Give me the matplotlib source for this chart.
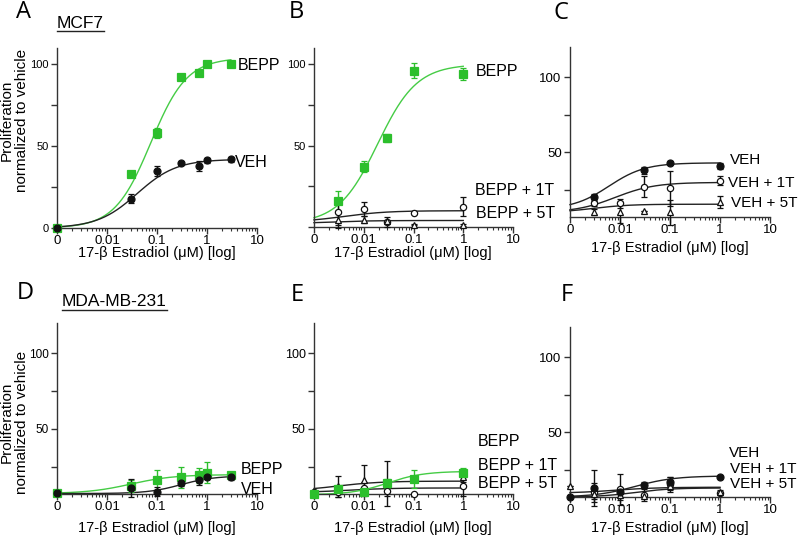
import numpy as np
import matplotlib
matplotlib.use("Agg")
import matplotlib.pyplot as plt
from matplotlib.lines import Line2D
from matplotlib.ticker import FixedLocator, LogLocator, NullFormatter, FixedFormatter

plt.rcParams['font.family'] = ['Liberation Sans', 'DejaVu Sans']

# ---------------- data ----------------
ZERO = 0.001  # position used for concentration "0" on the log axis
x_ticks = [0.001, 0.01, 0.1, 1, 10]
x_ticklabels = ["0", "0.01", "0.1", "1", "10"]

# Panel A (MCF7)
A_x = [0, 0.03, 0.1, 0.3, 0.7, 1, 3]
A_bepp = [0, 33, 58, 92.5, 94.5, 100, 100]
A_bepp_err = [0, 1.5, 3, 1.5, 1.5, 1.5, 1.5]
A_veh = [0, 18, 35, 39.5, 38, 41.5, 42]
A_veh_err = [0, 3, 3, 1, 3, 1.5, 1.5]
A_bepp_fit = [0, 104, 0.075, 1.2]      # bottom, top, EC50, hill
A_veh_fit = [0, 42, 0.04, 1.1]

# Panel B
B_x = [0.003, 0.01, 0.03, 0.1, 1]
B_bepp = [16, 37, 54.5, 96, 94]
B_bepp_err = [6, 3.5, 2.5, 4.5, 3.5]
B_1t = [9.5, 11, 3, 8.5, 12.5]
B_1t_err = [8, 4.5, 3, 0.5, 6]
B_5t = [4.5, 4.5, 3.5, 1.5, 1.2]
B_5t_err = [5, 2, 1, 0.5, 0.5]
B_bepp_fit = [2, 100, 0.019, 1.1]
B_1t_fit = [3, 10, 0.004, 1.0]
B_5t_fit = [2, 4, 0.002, 1.0]

# Panel C
C_x_veh = [0.003, 0.03, 0.1, 1]
C_veh = [20, 38, 43, 41]
C_veh_err = [2.5, 2.5, 1, 2]
C_x = [0.003, 0.01, 0.03, 0.1, 1]
C_1t = [16, 16, 27, 26, 31]
C_1t_err = [2, 3, 7, 11.5, 3]
C_5t = [10.5, 10, 11, 10, 17]
C_5t_err = [2, 7, 0, 8, 4]
C_veh_fit = [12, 43, 0.006, 1.2]
C_1t_fit = [10, 30, 0.008, 1.1]
C_5t_fit = [10, 15.5, 0.003, 1.2]

# Panel D (MDA-MB-231)
D_x = [0, 0.03, 0.1, 0.3, 0.7, 1, 3]
D_bepp = [7.5, 12.5, 16, 18, 19.5, 21, 19.5]
D_bepp_err = [0, 4, 7, 7, 5, 7, 1]
D_veh = [7.5, 11, 8.5, 14, 16, 18.5, 18]
D_veh_err = [0, 6, 3, 1.5, 3, 1.5, 1.5]
D_bepp_fit = [7.3, 19.8, 0.03, 1.0]
D_veh_fit = [7.3, 19, 0.3, 1.3]

# Panel E
E_x = [0, 0.003, 0.01, 0.03, 0.1, 1]
E_bepp = [7, 10, 8.5, 14, 17, 21]
E_bepp_err = [0, 3, 2, 3, 6, 3]
E_1t = [8.5, 8, 11, 9, 7, 12]
E_1t_err = [0, 3, 4, 3, 0, 6]
E_x_5t = [0, 0.003, 0.01, 0.03, 1]
E_5t = [7.5, 12, 16, 14, 18]
E_5t_err = [0, 7, 10, 15, 3]
E_bepp_fit = [6.5, 22, 0.03, 1.2]
E_1t_fit = [8, 11, 0.005, 1.0]
E_5t_fit = [9, 15.5, 0.003, 1.0]

# Panel F
F_x = [0, 0.003, 0.01, 0.03, 0.1, 1]
F_veh = [7, 13, 10, 15, 17, 20.5]
F_veh_err = [0, 12, 3, 2, 3, 0.5]
F_x_1t = [0.003, 0.01, 0.03, 0.1, 1]
F_1t = [10, 12, 8.5, 15.5, 9.5]
F_1t_err = [6, 10, 4, 5, 1]
F_5t = [14, 9, 8, 7.5, 14.5, 10.5]
F_5t_err = [0, 3, 3, 0, 3, 1]
F_veh_fit = [7, 21, 0.02, 1.1]
F_1t_fit = [7, 13, 0.02, 1.2]
F_5t_fit = [9.5, 13.5, 0.008, 1.0]

GREEN = '#2cbf2c'
GREEN_LINE = '#45cc45'
BLACK = '#111111'

W, H = 800, 547
fig = plt.figure(figsize=(W / 100, H / 100), dpi=100)


def add_ax(l, t, r, b):
    return fig.add_axes([l / W, 1 - b / H, (r - l) / W, (b - t) / H])


def xs(x):
    return [ZERO if v == 0 else v for v in x]


def fourpl(p, xmax):
    bottom, top, ec50, hill = p
    xx = np.logspace(np.log10(ZERO), np.log10(xmax), 300)
    return xx, bottom + (top - bottom) / (1 + (ec50 / xx) ** hill)


def series(ax, x, y, err, fit, kind):
    if kind == 'green':
        col, mk, mfc, ms, lc = GREEN, 's', GREEN, 5.5, GREEN_LINE
    elif kind == 'filled':
        col, mk, mfc, ms, lc = BLACK, 'o', BLACK, 5, '#222222'
    elif kind == 'open':
        col, mk, mfc, ms, lc = BLACK, 'o', 'white', 4.5, '#222222'
    else:
        col, mk, mfc, ms, lc = BLACK, '^', 'white', 4.5, '#222222'
    xx, yy = fourpl(fit, max(x))
    ax.plot(xx, yy, color=lc, lw=1.0, zorder=2, clip_on=False)
    ax.errorbar(xs(x), y, yerr=err, fmt=mk, color=col, mfc=mfc, mec=col, ms=ms,
                mew=0.9, elinewidth=1.0, capsize=2.5, capthick=1.0, zorder=3,
                clip_on=False)


def style(ax, ylim, ylabels, ysize):
    ax.set_xscale('log')
    ax.set_xlim(ZERO, 10)
    ax.set_ylim(*ylim)
    for s in ['top', 'right']:
        ax.spines[s].set_visible(False)
    for s in ['left', 'bottom']:
        ax.spines[s].set_linewidth(1.0)
        ax.spines[s].set_color('#333333')
    ax.xaxis.set_major_locator(FixedLocator(x_ticks))
    ax.xaxis.set_major_formatter(FixedFormatter(x_ticklabels))
    ax.xaxis.set_minor_locator(LogLocator(base=10, subs=np.arange(2, 10), numticks=20))
    ax.xaxis.set_minor_formatter(NullFormatter())
    yt = [v for v in [0, 25, 50, 75, 100] if v >= ylim[0]]
    ax.yaxis.set_major_locator(FixedLocator(yt))
    ax.yaxis.set_major_formatter(FixedFormatter([str(v) if v in ylabels else '' for v in yt]))
    ax.tick_params(axis='both', which='major', direction='out', length=4, width=1.0,
                   color='#333333', pad=2)
    ax.tick_params(axis='x', which='major', pad=1)
    ax.tick_params(axis='x', which='minor', direction='out', length=2, width=0.8,
                   color='#333333')
    ax.tick_params(axis='x', labelsize=9.5)
    ax.tick_params(axis='y', labelsize=ysize)
    ax.set_facecolor('none')


XL = "17-\u03b2 Estradiol (\u03bcM) [log]"

# ---- A ----
axA = add_ax(57, 48, 257, 228)
style(axA, (0, 110), [0, 50, 100], 8)
series(axA, A_x, A_bepp, A_bepp_err, A_bepp_fit, 'green')
series(axA, A_x, A_veh, A_veh_err, A_veh_fit, 'filled')

# ---- B ----
axB = add_ax(314, 48, 513, 227)
style(axB, (0, 110), [50, 100], 8)
series(axB, B_x, B_bepp, B_bepp_err, B_bepp_fit, 'green')
series(axB, B_x, B_1t, B_1t_err, B_1t_fit, 'open')
series(axB, B_x, B_5t, B_5t_err, B_5t_fit, 'tri')

# ---- C ----
axC = add_ax(570, 47, 770, 217)
style(axC, (7, 120), [50, 100], 9.5)
series(axC, C_x_veh, C_veh, C_veh_err, C_veh_fit, 'filled')
series(axC, C_x, C_1t, C_1t_err, C_1t_fit, 'open')
series(axC, C_x, C_5t, C_5t_err, C_5t_fit, 'tri')

# ---- D ----
axD = add_ax(57, 323, 257, 494)
style(axD, (7, 120), [50, 100], 8.5)
series(axD, D_x, D_bepp, D_bepp_err, D_bepp_fit, 'green')
series(axD, D_x, D_veh, D_veh_err, D_veh_fit, 'filled')

# ---- E ----
axE = add_ax(314, 323, 513, 494)
style(axE, (7, 120), [50, 100], 9)
series(axE, E_x, E_1t, E_1t_err, E_1t_fit, 'open')
series(axE, E_x_5t, E_5t, E_5t_err, E_5t_fit, 'tri')
series(axE, E_x, E_bepp, E_bepp_err, E_bepp_fit, 'green')

# ---- F ----
axF = add_ax(570, 327, 770, 497)
style(axF, (7, 120), [50, 100], 9.5)
series(axF, F_x_1t, F_1t, F_1t_err, F_1t_fit, 'open')
series(axF, F_x, F_5t, F_5t_err, F_5t_fit, 'tri')
series(axF, F_x, F_veh, F_veh_err, F_veh_fit, 'filled')


def ftext(x, y, s, size, ha='left', va='center', **kw):
    fig.text(x / W, 1 - y / H, s, fontsize=size, ha=ha, va=va, **kw)


# x labels
for cx, y in [(157, 253), (413, 253), (670, 248)]:
    ftext(cx, y, XL, 10.5, ha='center')
for cx, y in [(157, 528), (413, 528), (670, 528)]:
    ftext(cx, y, XL, 10.5, ha='center')

# y labels
for cy in (120, 422):
    ftext(7, cy, "Proliferation", 11, ha='center', rotation=90)
    ftext(22.5, cy, "normalized to vehicle", 11, ha='center', rotation=90)

# panel letters
for s, x, y in [("A", 23, 12), ("B", 296, 12), ("C", 561, 13),
                ("D", 25, 293), ("E", 297, 295), ("F", 567, 295)]:
    ftext(x, y, s, 17, ha='center', family=['Open Sans', 'DejaVu Sans'])

# cell line titles, underlined
ftext(57, 23, "MCF7", 12.5)
fig.add_artist(Line2D([57 / W, 104 / W], [1 - 31 / H, 1 - 31 / H], color='#222222', lw=1.0))
ftext(62, 302, "MDA-MB-231", 12.5)
fig.add_artist(Line2D([62 / W, 167 / W], [1 - 310 / H, 1 - 310 / H], color='#222222', lw=1.0))

# series labels
ftext(238, 66, "BEPP", 11.5)
ftext(235, 162, "VEH", 11.5)
ftext(476, 71, "BEPP", 11.5)
ftext(475, 190, "BEPP + 1T", 11.5)
ftext(476, 213, "BEPP + 5T", 11.5)
ftext(730, 160, "VEH", 11)
ftext(728, 183, "VEH + 1T", 11)
ftext(731, 203, "VEH + 5T", 11)
ftext(241, 470, "BEPP", 11.5)
ftext(241, 490, "VEH", 11.5)
ftext(478, 441, "BEPP", 11.5)
ftext(478, 466, "BEPP + 1T", 11.5)
ftext(478, 484, "BEPP + 5T", 11.5)
ftext(729, 453, "VEH", 11)
ftext(730, 469, "VEH + 1T", 11)
ftext(730, 484, "VEH + 5T", 11)

fig.savefig("out.png", dpi=100)
